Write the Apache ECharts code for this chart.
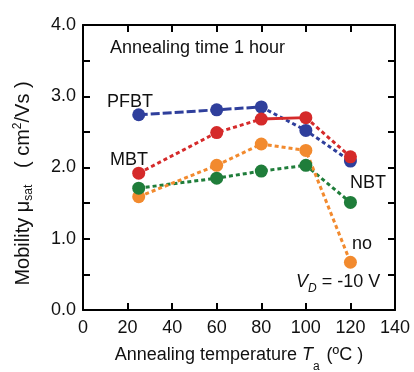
<!DOCTYPE html>
<html>
<head>
<meta charset="utf-8">
<script src="https://cdn.jsdelivr.net/npm/echarts@6/dist/echarts.min.js"></script>
<style>html,body{margin:0;padding:0;background:#fff;}#c{width:414px;height:372px;}</style>
</head>
<body>
<div id="c"></div>
<script>
const temps = [25, 60, 80, 100, 120];
const pfbt = [2.74, 2.81, 2.85, 2.52, 2.09];
const mbt  = [1.92, 2.49, 2.68, 2.70, 2.15];
const nbt  = [1.71, 1.85, 1.95, 2.03, 1.51];
const none = [1.59, 2.03, 2.33, 2.24, 0.67];
const xTicks = [0, 20, 40, 60, 80, 100, 120, 140];
const yTicks = [0, 1, 2, 3, 4];

const colors = { pfbt: '#2f3f9c', mbt: '#d52a2a', nbt: '#1f7d3a', none: '#f28a2e' };
const FONT = '"Liberation Sans", Arial, sans-serif';
const dotted = [4, 3];
const dashed = [9, 3];

function pts(vals, from, to) {
  const out = [];
  for (let i = from; i <= to; i++) out.push([temps[i], vals[i]]);
  return out;
}
function seg(vals, from, to, color, type, z) {
  return { type: 'line', data: pts(vals, from, to), showSymbol: false, symbol: 'none',
    lineStyle: { color: color, width: 3, type: type }, z: z, animation: false, silent: true };
}
function marks(vals, color, z) {
  return { type: 'line', data: pts(vals, 0, vals.length - 1), symbol: 'circle', symbolSize: 13,
    itemStyle: { color: color }, lineStyle: { width: 0, opacity: 0 }, z: z, animation: false };
}

const chart = echarts.init(document.getElementById('c'), null, { renderer: 'canvas' });
const axisLine = { show: true, onZero: false, lineStyle: { color: '#000', width: 2 } };
const tick = { show: true, inside: true, length: 7, lineStyle: { color: '#000', width: 2 } };
chart.setOption({
  animation: false,
  grid: { left: 83, right: 19, top: 25, bottom: 62, containLabel: false, outerBoundsMode: 'none' },
  xAxis: [
    { type: 'value', min: 0, max: 140, interval: 20, axisLine: axisLine, axisTick: tick,
      axisLabel: { color: '#111', fontSize: 18, fontFamily: FONT, margin: 9,
        formatter: v => (xTicks.indexOf(v) >= 0 ? String(v) : '') },
      splitLine: { show: false },
      name: '{n|Annealing temperature }{it|T}{sub|a}{n| (ºC )}', nameLocation: 'middle', nameGap: 27,
      nameTextStyle: { rich: {
        n: { fontSize: 18, fontFamily: FONT, color: '#111' },
        it: { fontSize: 18, fontFamily: FONT, fontStyle: 'italic', color: '#111' },
        sub: { fontSize: 12, fontFamily: FONT, color: '#111', padding: [24, 2, 0, 0] } } } },
    { type: 'value', show: true, position: 'top', min: 0, max: 140, interval: 20, axisLine: axisLine,
      axisTick: tick, axisLabel: { show: false }, splitLine: { show: false } }
  ],
  yAxis: [
    { type: 'value', min: 0, max: 4, interval: 0.5, axisLine: axisLine, axisTick: tick,
      axisLabel: { color: '#111', fontSize: 18, fontFamily: FONT, margin: 7,
        formatter: v => (yTicks.indexOf(v) >= 0 ? v.toFixed(1) : '') },
      splitLine: { show: false },
      name: '{n|Mobility μ}{sub|sat}{n|   ( cm}{sup|2}{n|/Vs )}', nameLocation: 'middle', nameGap: 48,
      nameRotate: 90,
      nameTextStyle: { padding: [0, 32, 0, 0], rich: {
        n: { fontSize: 20, fontFamily: FONT, color: '#111' },
        sub: { fontSize: 12, fontFamily: FONT, color: '#111', padding: [12, 0, 0, 0] },
        sup: { fontSize: 12, fontFamily: FONT, color: '#111', padding: [0, 0, 10, 0] } } } },
    { type: 'value', show: true, position: 'right', min: 0, max: 4, interval: 0.5, axisLine: axisLine,
      axisTick: tick, axisLabel: { show: false }, splitLine: { show: false } }
  ],
  series: [
    seg(pfbt, 0, 2, colors.pfbt, dashed, 2),
    seg(pfbt, 2, 4, colors.pfbt, dotted, 2),
    seg(mbt, 0, 2, colors.mbt, dotted, 2),
    seg(mbt, 2, 3, colors.mbt, 'solid', 2),
    seg(mbt, 3, 4, colors.mbt, dotted, 2),
    seg(nbt, 0, 4, colors.nbt, dotted, 2),
    seg(none, 0, 4, colors.none, dotted, 2),
    marks(none, colors.none, 3),
    marks(nbt, colors.nbt, 3),
    marks(pfbt, colors.pfbt, 3),
    marks(mbt, colors.mbt, 4),
    { type: 'line', xAxisIndex: 1, yAxisIndex: 1, data: [], silent: true }
  ],
  graphic: [
    { type: 'text', left: 110, top: 39, style: { text: 'Annealing time 1 hour', font: '18px ' + FONT, fill: '#111' } },
    { type: 'text', left: 107, top: 93, style: { text: 'PFBT', font: '18px ' + FONT, fill: '#111' } },
    { type: 'text', left: 110, top: 151, style: { text: 'MBT', font: '18px ' + FONT, fill: '#111' } },
    { type: 'text', left: 350, top: 174, style: { text: 'NBT', font: '18px ' + FONT, fill: '#111' } },
    { type: 'text', left: 352, top: 235, style: { text: 'no', font: '18px ' + FONT, fill: '#111' } },
    { type: 'text', left: 296, top: 273, style: { text: '{it|V}{sub|D}{n| = -10 V}', rich: {
        it: { font: 'italic 18px ' + FONT, fill: '#111' },
        sub: { font: 'italic 12px ' + FONT, fill: '#111', padding: [14, 0, 0, 0] },
        n: { font: '18px ' + FONT, fill: '#111' } } } }
  ]
});
</script>
</body>
</html>
